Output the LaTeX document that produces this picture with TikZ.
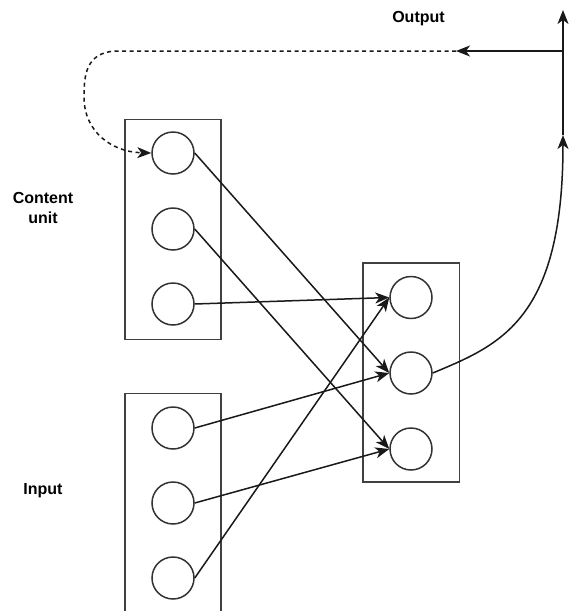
\documentclass[tikz,border=0pt]{standalone}
\usepackage{fontspec}
\setmainfont{Liberation Sans}
\usetikzlibrary{arrows.meta}
\begin{document}
\begin{tikzpicture}[x=1pt,y=-1pt,
  edge/.style={line width=1.5pt, draw=black!90},
  tip/.style={-{Stealth[length=14pt,width=11pt,inset=4pt]}},
  unitbox/.style={edge, draw=black!75},
  neuron/.style={circle, draw=black!80, line width=1.5pt, minimum size=42pt, inner sep=0pt},
  lbl/.style={font=\fontsize{16}{20}\selectfont\bfseries, inner sep=0pt, align=center}]
\useasboundingbox (0,0) rectangle (572,611);

% layer boxes
\draw[unitbox] (125,119.5) rectangle (221,339.5);
\draw[unitbox] (125,393.5) rectangle (221,620);
\draw[unitbox] (363,263) rectangle (459.5,482);

% content units
\node[neuron] (c1) at (173,153) {};
\node[neuron] (c2) at (173,229) {};
\node[neuron] (c3) at (173,304) {};
% inputs
\node[neuron] (i1) at (173,428) {};
\node[neuron] (i2) at (173,503) {};
\node[neuron] (i3) at (173,578) {};
% hidden units
\node[neuron] (h1) at (411,297.5) {};
\node[neuron] (h2) at (411,373) {};
\node[neuron] (h3) at (411,449) {};

% labels
\node[lbl, anchor=base] (outlbl) at (418.5,22.7) {Output};
\node[lbl, anchor=north] (ctxlbl) at (43,192.5) {Content\\unit};
\node[lbl, anchor=base] (inlbl) at (43,494.5) {Input};

% output junction points
\coordinate (join) at (563,135);
\coordinate (top) at (563,10);
\coordinate (split) at (563,51);
\coordinate (back) at (456,51);

% weights
\draw[edge,tip] (c1.east) -- (h2.west);
\draw[edge,tip] (c2.east) -- (h3.west);
\draw[edge,tip] (c3.east) -- (h1.west);
\draw[edge,tip] (i1.east) -- (h2.west);
\draw[edge,tip] (i2.east) -- (h3.west);
\draw[edge,tip] (i3.east) -- (h1.west);

% hidden output up to the output line
\draw[edge,tip] (h2.east) .. controls (500,345) and (563,320) .. (join);
\draw[edge,tip] (join) -- (top);
\draw[edge,tip] (split) -- (back);

% copy back into the content units
\draw[edge,tip,dashed,dash pattern=on 4pt off 3.5pt] (back) -- (115,51)
  .. controls (86,53) and (84,75) .. (84,97)
  .. controls (84,132) and (112,152) .. (c1.west);
\end{tikzpicture}
\end{document}
